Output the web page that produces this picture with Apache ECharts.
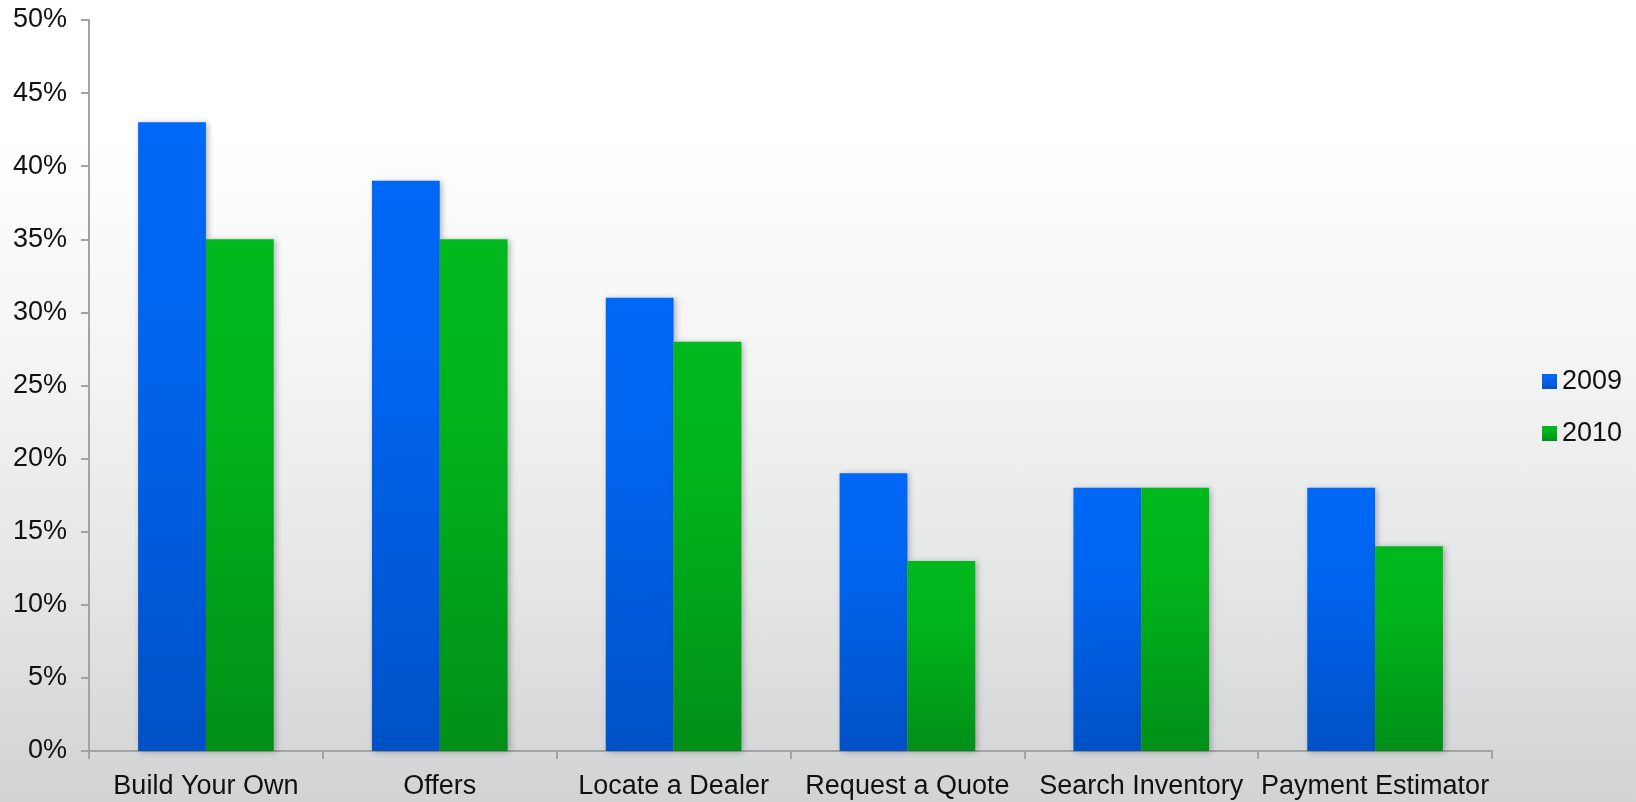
<!DOCTYPE html>
<html>
<head>
<meta charset="utf-8">
<script src="https://cdn.jsdelivr.net/npm/echarts@6/dist/echarts.min.js"></script>
<style>
html,body{margin:0;padding:0;}
#chart{width:1636px;height:802px;background:linear-gradient(to bottom,#ffffff 0%,#ffffff 16%,#f4f4f4 45%,#e6e7e7 70%,#d2d3d4 100%);}
</style>
</head>
<body>
<div id="chart"></div>
<script>
const categories = ['Build Your Own','Offers','Locate a Dealer','Request a Quote','Search Inventory','Payment Estimator'];
const series2009 = [43, 39, 31, 19, 18, 18];
const series2010 = [35, 35, 28, 13, 18, 14];
const seriesNames = ['2009','2010'];

const chart = echarts.init(document.getElementById('chart'));
const font = '"Liberation Sans", Arial, sans-serif';
function grad(top, mid, bottom){
  return new echarts.graphic.LinearGradient(0,0,0,1,[
    {offset:0,color:top},{offset:0.35,color:mid},{offset:1,color:bottom}
  ]);
}
const blue = grad('#0068f6','#0064ee','#0051c6');
const green = grad('#00b91d','#00b31b','#008f18');
const barShadow = {shadowBlur:6, shadowColor:'rgba(0,0,0,0.28)', shadowOffsetX:2, shadowOffsetY:1};

chart.setOption({
  animation:false,
  grid:{left:89, top:20, right:144, bottom:51, containLabel:false},
  legend:{
    orient:'vertical', left:1542, top:368, padding:0,
    itemWidth:15, itemHeight:15, itemGap:25,
    icon:'rect',
    textStyle:{fontFamily:font, fontSize:27, color:'#111', padding:[0,0,0,0], lineHeight:26},
    data:[{name:'2009', itemStyle:{color:blue}},{name:'2010', itemStyle:{color:green}}]
  },
  xAxis:{
    type:'category', data:categories,
    axisLine:{lineStyle:{color:'#a3a3a3', width:2}},
    axisTick:{show:true, length:8, alignWithLabel:false, lineStyle:{color:'#a3a3a3', width:2}},
    axisLabel:{fontFamily:font, fontSize:27, color:'#111', margin:22, interval:0}
  },
  yAxis:{
    type:'value', min:0, max:50, interval:5,
    axisLine:{show:true, lineStyle:{color:'#a3a3a3', width:2}},
    axisTick:{show:true, length:8, lineStyle:{color:'#a3a3a3', width:2}},
    splitLine:{show:false},
    axisLabel:{fontFamily:font, fontSize:27, color:'#111', margin:22, formatter:'{value}%'}
  },
  series:[
    {name:seriesNames[0], type:'bar', data:series2009, barGap:'0%', barCategoryGap:'42%',
     itemStyle:Object.assign({color:blue}, barShadow)},
    {name:seriesNames[1], type:'bar', data:series2010, barGap:'0%', barCategoryGap:'42%',
     itemStyle:Object.assign({color:green}, barShadow)}
  ]
});
</script>
</body>
</html>
